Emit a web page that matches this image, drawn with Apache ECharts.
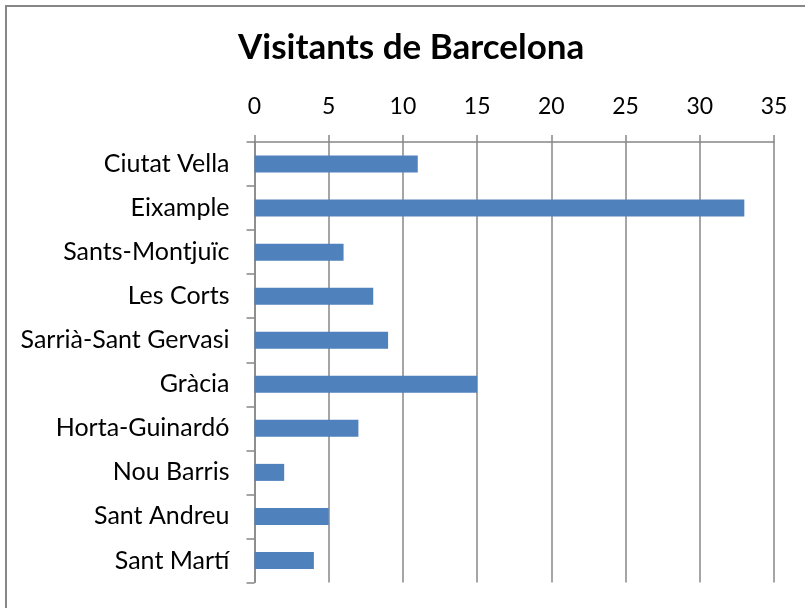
<!DOCTYPE html>
<html><head><meta charset="utf-8">
<script src="https://cdn.jsdelivr.net/npm/echarts@6/dist/echarts.min.js"></script>
<style>
html,body{margin:0;padding:0;background:#fff;}
#wrap{position:relative;width:805px;height:608px;overflow:hidden;}
#frame{position:absolute;left:5px;top:5px;width:900px;height:900px;border-top:2px solid #878787;border-left:2px solid #878787;}
#chart{position:absolute;left:0;top:0;width:805px;height:608px;}
</style></head>
<body><div id="wrap"><div id="frame"></div><div id="chart"></div></div>
<script>
const title = "Visitants de Barcelona";
const categories = ["Ciutat Vella","Eixample","Sants-Montjuïc","Les Corts","Sarrià-Sant Gervasi","Gràcia","Horta-Guinardó","Nou Barris","Sant Andreu","Sant Martí"];
const visitants = [11,33,6,8,9,15,7,2,5,4];
const axisMin = 0, axisMax = 35, axisStep = 5;

const FONT = "Lato";
const chart = echarts.init(document.getElementById('chart'), null, {renderer:'canvas'});
chart.setOption({
  animation:false,
  backgroundColor:'transparent',
  title:{text:title,left:238,top:30,padding:0,textStyle:{fontFamily:FONT,fontWeight:'bold',fontSize:35,color:'#000'}},
  grid:{left:254.5,right:31,top:142,bottom:25.5,containLabel:false},
  xAxis:{type:'value',position:'top',min:axisMin,max:axisMax,interval:axisStep,
    axisLine:{show:true,lineStyle:{color:'#878787',width:1.5}},
    axisTick:{show:true,length:7,lineStyle:{color:'#878787',width:1.5}},
    axisLabel:{fontFamily:FONT,fontSize:23,color:'#000',margin:24},
    splitLine:{show:true,lineStyle:{color:'#878787',width:1.5}}},
  yAxis:{type:'category',data:categories,inverse:true,
    axisLine:{show:true,lineStyle:{color:'#878787',width:1.5}},
    axisTick:{show:true,length:8,lineStyle:{color:'#878787',width:1.5}},
    axisLabel:{fontFamily:FONT,fontSize:25,color:'#000',margin:25}},
  series:[{type:'bar',data:visitants,barWidth:17,itemStyle:{color:'#4F81BD'}}]
});
</script></body></html>
